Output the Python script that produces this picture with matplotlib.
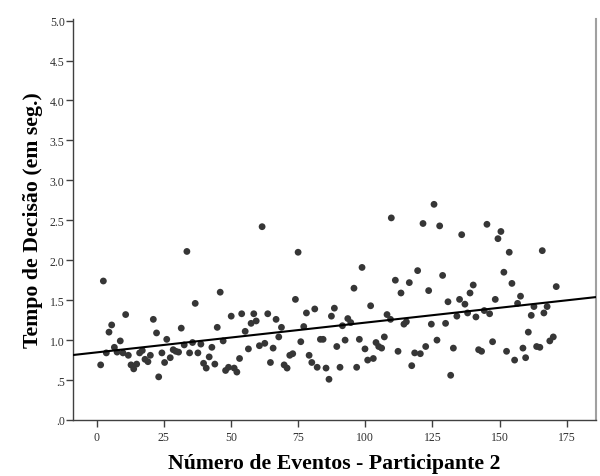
import numpy as np
import matplotlib
matplotlib.use("Agg")
import matplotlib.pyplot as plt

# event number and decision time in seconds
eventos = [1.5, 2.5, 3.6, 4.6, 5.6, 6.6, 7.6, 8.8, 9.8, 10.8,
           11.8, 12.8, 13.8, 14.9, 16.0, 17.0, 18.0, 19.1, 20.0, 21.1,
           22.3, 23.1, 24.3, 25.3, 26.1, 27.4, 28.5, 29.5, 30.5, 31.5,
           32.6, 33.6, 34.6, 35.7, 36.7, 37.7, 38.8, 39.8, 40.8, 41.9,
           42.9, 44.0, 44.9, 46.0, 47.1, 48.0, 49.1, 50.1, 51.2, 52.2,
           53.2, 54.0, 55.3, 56.5, 57.5, 58.5, 59.4, 60.6, 61.6, 62.6,
           63.7, 64.7, 65.7, 66.8, 67.8, 68.8, 69.8, 70.9, 71.9, 73.0,
           74.0, 75.0, 76.0, 77.1, 78.1, 79.1, 80.1, 81.2, 82.1, 83.3,
           84.3, 85.4, 86.5, 87.4, 88.5, 89.4, 90.6, 91.5, 92.5, 93.5,
           94.6, 95.8, 96.8, 97.8, 98.8, 99.9, 100.9, 102.0, 103.0, 104.0,
           105.0, 106.1, 107.1, 108.1, 109.4, 109.7, 111.2, 112.2, 113.3, 114.4,
           115.3, 116.4, 117.3, 118.4, 119.5, 120.5, 121.5, 122.5, 123.6, 124.6,
           125.6, 126.7, 127.7, 128.8, 129.9, 130.8, 131.8, 132.8, 134.1, 135.1,
           135.9, 137.1, 138.1, 139.0, 140.2, 141.2, 142.2, 143.3, 144.3, 145.3,
           146.3, 147.4, 148.4, 149.4, 150.5, 151.6, 152.6, 153.6, 154.6, 155.6,
           156.7, 157.8, 158.7, 159.7, 160.7, 161.8, 162.8, 163.8, 165.0, 165.9,
           166.5, 167.7, 168.7, 170.0, 171.1]
tempo = [0.69, 1.74, 0.84, 1.10, 1.19, 0.91, 0.85, 0.99, 0.84, 1.32,
         0.81, 0.69, 0.64, 0.70, 0.84, 0.87, 0.76, 0.73, 0.81, 1.26,
         1.09, 0.54, 0.84, 0.72, 1.01, 0.78, 0.88, 0.86, 0.85, 1.15,
         0.94, 2.11, 0.84, 0.97, 1.46, 0.84, 0.95, 0.71, 0.65, 0.79,
         0.91, 0.70, 1.16, 1.60, 0.99, 0.62, 0.66, 1.30, 0.65, 0.60,
         0.77, 1.33, 1.11, 0.89, 1.21, 1.33, 1.24, 0.93, 2.42, 0.96,
         1.33, 0.72, 0.90, 1.26, 1.04, 1.16, 0.69, 0.65, 0.81, 0.83,
         1.51, 2.10, 0.98, 1.17, 1.34, 0.81, 0.72, 1.39, 0.66, 1.01,
         1.01, 0.65, 0.51, 1.30, 1.40, 0.92, 0.66, 1.18, 1.00, 1.27,
         1.22, 1.65, 0.66, 1.01, 1.91, 0.89, 0.75, 1.43, 0.77, 0.97,
         0.92, 0.90, 1.04, 1.32, 1.26, 2.53, 1.75, 0.86, 1.59, 1.20,
         1.23, 1.72, 0.68, 0.84, 1.87, 0.83, 2.46, 0.92, 1.62, 1.20,
         2.70, 1.00, 2.43, 1.81, 1.21, 1.48, 0.56, 0.90, 1.30, 1.51,
         2.32, 1.45, 1.34, 1.59, 1.69, 1.29, 0.88, 0.86, 1.37, 2.45,
         1.33, 0.98, 1.51, 2.27, 2.36, 1.85, 0.86, 2.10, 1.71, 0.75,
         1.46, 1.55, 0.90, 0.78, 1.10, 1.31, 1.42, 0.92, 0.91, 2.12,
         1.34, 1.42, 0.99, 1.04, 1.67]

x_ticks = [0, 25, 50, 75, 100, 125, 150, 175]
y_ticks = [0.0, 0.5, 1.0, 1.5, 2.0, 2.5, 3.0, 3.5, 4.0, 4.5, 5.0]
y_labels = ['.0', '.5', '1.0', '1.5', '2.0', '2.5', '3.0', '3.5', '4.0', '4.5', '5.0']

plt.rcParams['font.family'] = ['Liberation Serif', 'DejaVu Serif']

fig = plt.figure(figsize=(6.0, 4.77), dpi=100)
ax = fig.add_axes([73 / 600, 1 - 421 / 477, (596 - 73) / 600, (421 - 20) / 477])

ax.scatter(eventos, tempo, s=24, color='#363636', edgecolors='none', zorder=3)

# linear fit line across the full axis
xlim = (-8.8, 185.9)
coef = np.polyfit(eventos, tempo, 1)
xs = np.array(xlim)
ax.plot(xs, np.polyval(coef, xs), color='black', lw=1.5, zorder=4)

ax.set_xlim(*xlim)
ax.set_ylim(0, 5.02)
ax.set_xticks(x_ticks)
ax.set_yticks(y_ticks)
ax.set_yticklabels(y_labels)

for side in ['left', 'bottom']:
    ax.spines[side].set_color('#404040')
    ax.spines[side].set_linewidth(1.0)
ax.spines['right'].set_color('#a0a0a0')
ax.spines['right'].set_linewidth(1.5)
ax.spines['top'].set_visible(False)

ax.tick_params(axis='both', direction='out', length=5, width=1, color='#404040',
               labelsize=8.5, labelcolor='#303030')
ax.tick_params(axis='y', pad=1)
ax.tick_params(axis='x', pad=3)

ax.set_xlabel('Número de Eventos - Participante 2', fontsize=15.7, fontweight='bold', labelpad=7)
ax.set_ylabel('Tempo de Decisão (em seg.)', fontsize=15.7, fontweight='bold', labelpad=5)

fig.savefig('out.png', dpi=100)
